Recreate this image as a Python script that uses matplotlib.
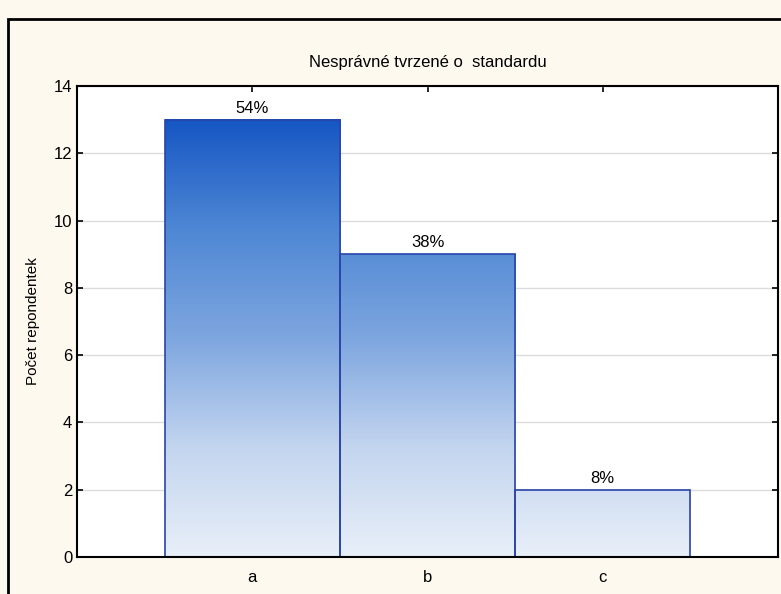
import matplotlib.pyplot as plt
import numpy as np
from matplotlib.colors import LinearSegmentedColormap
from matplotlib.patches import Rectangle

categories = ['a', 'b', 'c']
counts = [13, 9, 2]
percent_labels = ['54%', '38%', '8%']

plt.rcParams['font.family'] = ['Liberation Sans', 'DejaVu Sans']

fig = plt.figure(figsize=(7.81, 5.94), dpi=100)
fig.patch.set_facecolor('#fdf9ee')
# outer frame (runs off the right and bottom edge)
fig.patches.append(Rectangle((8 / 781, -0.05), 1.2, 1 - 19 / 594 + 0.05,
                             transform=fig.transFigure, fill=False,
                             edgecolor='black', linewidth=2))

ax = fig.add_axes([77 / 781, 37 / 594, 701 / 781, 471 / 594])
ax.set_facecolor('white')

# gradient: light at the bottom, deep blue at the top
cmap = LinearSegmentedColormap.from_list(
    'bars', ['#e8eff9', '#c3d5ef', '#7ea6df', '#4e87d4', '#1656c4'])
grad = np.linspace(0, 1, 256).reshape(-1, 1)
top = max(counts)
x = np.arange(len(categories))
for xi, h, lab in zip(x, counts, percent_labels):
    ax.imshow(grad * h / top, cmap=cmap, vmin=0, vmax=1, aspect='auto',
              origin='lower', extent=(xi - 0.5, xi + 0.5, 0, h), zorder=2)
    ax.add_patch(Rectangle((xi - 0.5, 0), 1.0, h, fill=False,
                           edgecolor='#2a45a8', linewidth=1.2, zorder=3))
    ax.text(xi, h + 0.12, lab, ha='center', va='bottom', fontsize=12)

ax.set_xlim(-1, 3)
ax.set_ylim(0, 14)
ax.set_xticks(x)
ax.set_xticklabels(categories, fontsize=12)
ax.set_yticks(np.arange(0, 15, 2))
ax.tick_params(axis='y', labelsize=12)
ax.tick_params(direction='in', top=True, right=True, length=4, width=1.2)
ax.tick_params(axis='x', pad=9)
ax.grid(axis='y', color='#dcdcdc', linewidth=1, zorder=0)
ax.set_axisbelow(True)
for s in ax.spines.values():
    s.set_linewidth(1.5)
    s.set_zorder(4)

ax.set_ylabel('Počet repondentek', fontsize=11, labelpad=10)
fig.text(0.5 * (77 + 778) / 781, 1 - 63 / 594, 'Nesprávné tvrzené o  standardu',
         ha='center', va='center', fontsize=12)

fig.savefig('out.png', dpi=100, facecolor=fig.get_facecolor())
